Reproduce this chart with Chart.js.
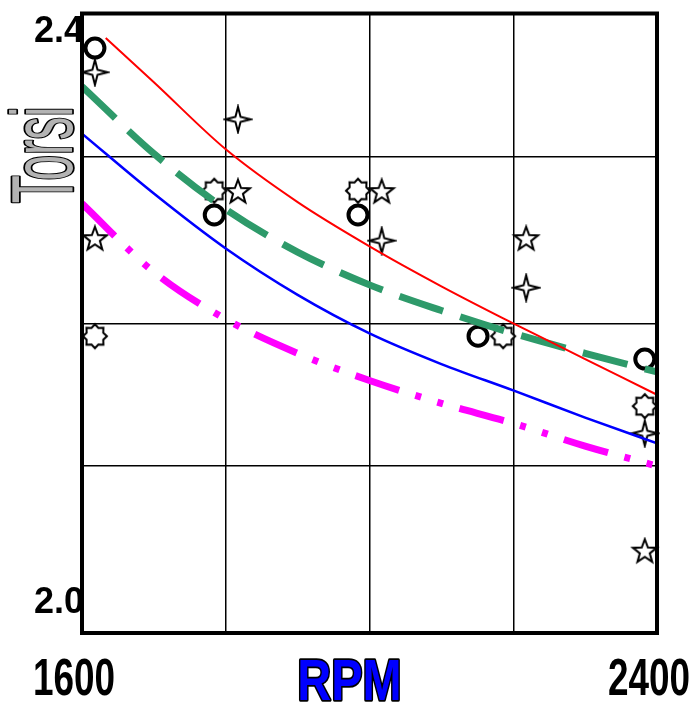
<!DOCTYPE html>
<html>
<head>
<meta charset="utf-8">
<script src="https://cdn.jsdelivr.net/npm/chart.js@4.4.1/dist/chart.umd.min.js"></script>
<style>
  html, body { margin: 0; padding: 0; background: #fff; }
  #wrap { width: 696px; height: 709px; }
</style>
</head>
<body>
<div id="wrap"><canvas id="myChart" width="696" height="709"></canvas></div>
<script>
// Fitted curves (x in RPM)
const lineRpm = [1600, 1700, 1800, 1900, 2000, 2100, 2200, 2300, 2400];
const redRpm = [1633, 1700, 1800, 1900, 2000, 2100, 2200, 2300, 2400];
const redTorsi = [2.394, 2.363, 2.316, 2.279, 2.248, 2.220, 2.194, 2.169, 2.144];
const greenTorsi = [2.360, 2.313, 2.274, 2.244, 2.221, 2.203, 2.187, 2.173, 2.160];
const blueTorsi = [2.327, 2.285, 2.2465, 2.214, 2.187, 2.1655, 2.147, 2.128, 2.110];
const magentaTorsi = [2.278, 2.230, 2.197, 2.173, 2.154, 2.138, 2.124, 2.108, 2.094];

// Measured points
const circleRpm = [1618, 1784, 1984, 2151, 2383];
const circleTorsi = [2.387, 2.270, 2.270, 2.185, 2.169];
const sparkleRpm = [1618, 1817, 2017, 2218, 2383];
const sparkleTorsi = [2.370, 2.337, 2.252, 2.219, 2.117];
const starRpm = [1618, 1817, 2017, 2218, 2383];
const starTorsi = [2.253, 2.286, 2.286, 2.253, 2.034];
const burstRpm = [1618, 1784, 1984, 2186, 2383];
const burstTorsi = [2.185, 2.287, 2.287, 2.185, 2.136];

// Axis ticks
const xTicks = [1600, 1800, 2000, 2200, 2400];
const xLabels = ['1600', '', '', '', '2400'];
const yGrid = [2.094, 2.194, 2.311];
const yLabels = [2.0, 2.4];

function pts(xs, ys) {
    return xs.map((x, i) => ({ x: x, y: ys[i] }));
}

// Build a marker image: star polygon with n points
function makeMarker(n, outer, inner) {
    const c = document.createElement('canvas');
    const size = 30;
    c.width = size; c.height = size;
    const ctx = c.getContext('2d');
    ctx.beginPath();
    for (let i = 0; i < n * 2; i++) {
        const r = i % 2 === 0 ? outer : inner;
        const a = -Math.PI / 2 + i * Math.PI / n;
        const px = size / 2 + r * Math.cos(a);
        const py = size / 2 + r * Math.sin(a);
        if (i === 0) ctx.moveTo(px, py); else ctx.lineTo(px, py);
    }
    ctx.closePath();
    ctx.fillStyle = '#ffffff';
    ctx.fill();
    ctx.lineWidth = 2;
    ctx.strokeStyle = '#000000';
    ctx.lineJoin = 'miter';
    ctx.stroke();
    return c;
}

const sparkleImg = makeMarker(4, 12.5, 3.6);
const starImg = makeMarker(5, 12.5, 5.2);
const burstImg = makeMarker(8, 12, 9);

function drawText(ctx, text, x, y, o) {
    ctx.save();
    ctx.translate(x, y);
    if (o.rotate) ctx.rotate(o.rotate);
    ctx.scale(o.sx || 1, 1);
    ctx.font = o.font;
    ctx.textAlign = o.align || 'center';
    ctx.textBaseline = 'alphabetic';
    if (o.stroke) {
        ctx.lineWidth = o.strokeWidth || 3;
        ctx.strokeStyle = o.stroke;
        ctx.lineJoin = 'round';
        ctx.strokeText(text, 0, 0);
    }
    ctx.fillStyle = o.color;
    ctx.fillText(text, 0, 0);
    ctx.restore();
}

const frameAndLabels = {
    id: 'frameAndLabels',
    afterDraw(chart) {
        const ctx = chart.ctx;
        const a = chart.chartArea;
        const xs = chart.scales.x;
        const ys = chart.scales.y;

        // thick frame
        ctx.save();
        ctx.lineWidth = 4;
        ctx.strokeStyle = '#000';
        ctx.strokeRect(a.left, a.top, a.right - a.left, a.bottom - a.top);
        ctx.restore();

        // y tick labels
        yLabels.forEach(v => {
            drawText(ctx, v.toFixed(1), a.left + 2, ys.getPixelForValue(v) + 13, {
                font: 'bold 36px "Liberation Sans", Arial, sans-serif',
                color: '#000', align: 'right'
            });
        });

        // x tick labels
        xTicks.forEach((v, i) => {
            if (!xLabels[i]) return;
            drawText(ctx, xLabels[i], xs.getPixelForValue(v) - 8, 695, {
                font: 'bold 52px "Liberation Sans", Arial, sans-serif',
                color: '#000', sx: 0.71
            });
        });

        // axis titles
        drawText(ctx, 'RPM', (a.left + a.right) / 2 - 20, 700, {
            font: 'bold 58px "Liberation Sans", Arial, sans-serif',
            color: '#0000ff', stroke: '#000', strokeWidth: 3.5, sx: 0.81
        });
        drawText(ctx, 'Torsi', 72, 155, {
            font: '88px "Liberation Sans", Arial, sans-serif',
            color: '#b3b3b3', stroke: '#000', strokeWidth: 3.5, sx: 0.52,
            rotate: -Math.PI / 2
        });
    }
};

const lineBase = {
    showLine: true,
    pointRadius: 0,
    pointHoverRadius: 0,
    fill: false,
    cubicInterpolationMode: 'monotone',
    order: 0
};

const markerBase = {
    showLine: false,
    order: 1,
    clip: false
};

const data = {
    datasets: [
        Object.assign({}, lineBase, {
            label: 'red fit',
            data: pts(redRpm, redTorsi),
            borderColor: '#ff0000',
            borderWidth: 2
        }),
        Object.assign({}, lineBase, {
            label: 'green fit',
            data: pts(lineRpm, greenTorsi),
            borderColor: '#2e9a6a',
            borderWidth: 7,
            borderDash: [46, 18]
        }),
        Object.assign({}, lineBase, {
            label: 'blue fit',
            data: pts(lineRpm, blueTorsi),
            borderColor: '#0000ff',
            borderWidth: 2.5
        }),
        Object.assign({}, lineBase, {
            label: 'magenta fit',
            data: pts(lineRpm, magentaTorsi),
            borderColor: '#ff00ff',
            borderWidth: 7,
            borderDash: [46, 17, 6, 17, 6, 17]
        }),
        Object.assign({}, markerBase, {
            label: 'circle',
            data: pts(circleRpm, circleTorsi),
            pointStyle: 'circle',
            pointRadius: 9.5,
            pointBorderWidth: 4,
            pointBorderColor: '#000',
            pointBackgroundColor: '#fff'
        }),
        Object.assign({}, markerBase, {
            label: 'sparkle',
            data: pts(sparkleRpm, sparkleTorsi),
            pointStyle: sparkleImg
        }),
        Object.assign({}, markerBase, {
            label: 'star',
            data: pts(starRpm, starTorsi),
            pointStyle: starImg
        }),
        Object.assign({}, markerBase, {
            label: 'burst',
            data: pts(burstRpm, burstTorsi),
            pointStyle: burstImg
        })
    ]
};

const config = {
    type: 'scatter',
    data,
    options: {
        responsive: false,
        animation: false,
        layout: {
            padding: { left: 82, top: 11, right: 39, bottom: 76 }
        },
        scales: {
            x: {
                type: 'linear',
                min: 1600,
                max: 2400,
                afterBuildTicks: axis => {
                    axis.ticks = xTicks.map(v => ({ value: v }));
                },
                ticks: { display: false },
                grid: { color: '#000', lineWidth: 1.5, drawTicks: false, tickLength: 0 },
                border: { display: false }
            },
            y: {
                type: 'linear',
                min: 1.977,
                max: 2.4112,
                afterBuildTicks: axis => {
                    axis.ticks = yGrid.map(v => ({ value: v }));
                },
                ticks: { display: false },
                grid: { color: '#000', lineWidth: 1.5, drawTicks: false, tickLength: 0 },
                border: { display: false }
            }
        },
        plugins: {
            legend: { display: false },
            tooltip: { enabled: false }
        }
    },
    plugins: [frameAndLabels]
};

window.myChart = new Chart(document.getElementById('myChart'), config);
</script>
</body>
</html>
